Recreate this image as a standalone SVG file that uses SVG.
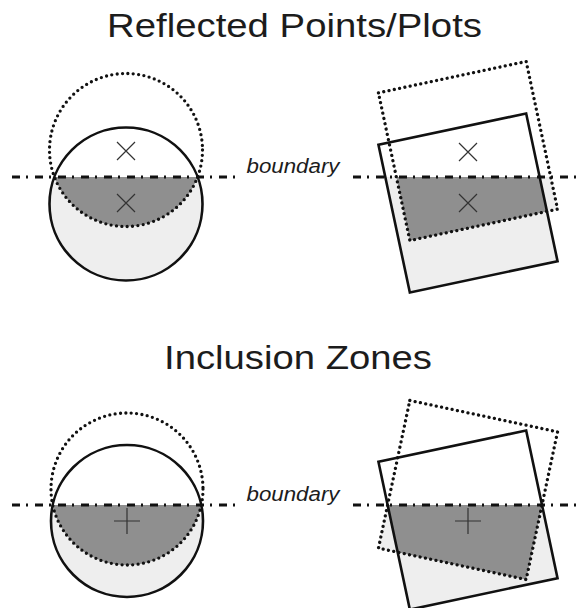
<svg xmlns="http://www.w3.org/2000/svg" width="579" height="608" viewBox="0 0 579 608">
<style>
.title{font-family:"Liberation Sans",Arial,sans-serif;font-size:33px;fill:#1c1c1c}
.blab{font-family:"Liberation Sans",Arial,sans-serif;font-size:20px;font-style:italic;fill:#1c1c1c}
.light{fill:#eeeeee;stroke:none}
.dark{fill:#8f8f8f;stroke:none}
.solid{fill:none;stroke:#111;stroke-width:2.6}
.dots{fill:none;stroke:#111;stroke-width:3.3;stroke-dasharray:0 5.4;stroke-linecap:round}
.bound{fill:none;stroke:#111;stroke-width:3;stroke-dasharray:8 6 2 7}
.mark{fill:none;stroke:#333;stroke-width:1.2}
</style>
<rect width="579" height="608" fill="#fff"/>
<text class="title" x="107" y="37" textLength="375" lengthAdjust="spacingAndGlyphs">Reflected Points/Plots</text>
<text class="title" x="164" y="369" textLength="268" lengthAdjust="spacingAndGlyphs">Inclusion Zones</text>

<g id="reflected-circle">
<path class="light" d="M54.4,177 L197.6,177 A76.5,76.5 0 1 1 54.4,177 Z"/>
<path class="dark" d="M54.4,177 L197.6,177 A76.5,76.5 0 0 1 54.4,177 Z"/>
<circle class="solid" cx="126" cy="204" r="76.5"/>
<circle class="dots" cx="126" cy="150" r="76.5"/>
<path class="mark" d="M117,142 L135,160 M135,142 L117,160 M117,194 L135,212 M135,194 L117,212"/>
</g>

<g id="reflected-square">
<path class="light" d="M385.3,177 L550.7,177 L557.5,209.1 L546.9,211.4 L557.5,261.1 L409.9,292.5 Z"/>
<path class="dark" d="M396.4,177 L539.6,177 L546.9,211.4 L409.9,240.5 Z"/>
<rect class="solid" x="392.5" y="127.5" width="151" height="151" transform="rotate(-12 468 203)"/>
<rect class="dots" x="392.5" y="75.5" width="151" height="151" transform="rotate(-12 468 151)"/>
<path class="mark" d="M459,143 L477,161 M477,143 L459,161 M459,194 L477,212 M477,194 L459,212"/>
</g>

<g id="inclusion-circle">
<path class="light" d="M52.7,505 L201.3,505 A76,76 0 1 1 52.7,505 Z"/>
<path class="dark" d="M52.7,505 L201.3,505 A76,76 0 0 1 52.7,505 Z"/>
<circle class="solid" cx="127" cy="521" r="76"/>
<circle class="dots" cx="127" cy="489" r="76"/>
<path class="mark" d="M114,521 L140,521 M127,508 L127,534"/>
</g>

<g id="inclusion-square">
<path class="light" d="M387.7,505 L542,505 L557.5,578.1 L409.9,609.5 L397.7,552.2 L378.5,548.1 Z"/>
<path class="dark" d="M387.7,505 L542,505 L526.1,579.5 L397.7,552.2 Z"/>
<rect class="solid" x="392.5" y="444.5" width="151" height="151" transform="rotate(-12 468 520)"/>
<rect class="dots" x="392.5" y="414.5" width="151" height="151" transform="rotate(12 468 490)"/>
<path class="mark" d="M455,521 L481,521 M468,508 L468,534"/>
</g>

<g id="connectors">
<path class="bound" d="M12,177 L240,177 M353,177 L579,177"/>
<path class="bound" d="M12,505 L240,505 M353,505 L579,505"/>
</g>
<text class="blab" x="246.5" y="173" textLength="93" lengthAdjust="spacingAndGlyphs">boundary</text>
<text class="blab" x="246.5" y="501" textLength="93" lengthAdjust="spacingAndGlyphs">boundary</text>
</svg>
